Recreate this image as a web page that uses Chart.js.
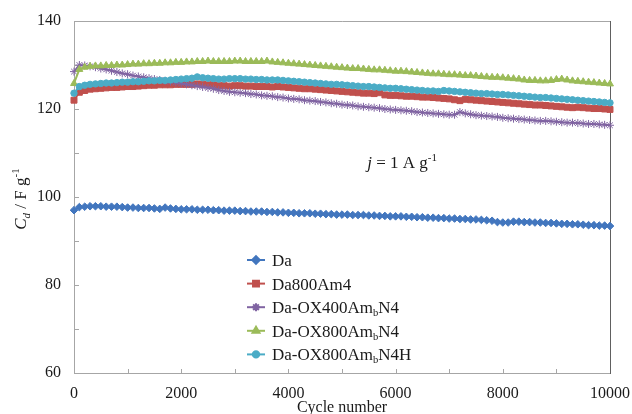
<!DOCTYPE html>
<html><head><meta charset="utf-8">
<script src="https://cdn.jsdelivr.net/npm/chart.js@4/dist/chart.umd.min.js"></script>
<style>html,body{margin:0;padding:0;background:#fff;}#wrap{width:632px;height:414px;}</style>
</head><body><div id="wrap"><canvas id="c" width="632" height="414"></canvas></div>
<script>
const cycles = [0,100,200,300,400,500,600,700,800,900,1000,1100,1200,1300,1400,1500,1600,1700,1800,1900,2000,2100,2200,2300,2400,2500,2600,2700,2800,2900,3000,3100,3200,3300,3400,3500,3600,3700,3800,3900,4000,4100,4200,4300,4400,4500,4600,4700,4800,4900,5000,5100,5200,5300,5400,5500,5600,5700,5800,5900,6000,6100,6200,6300,6400,6500,6600,6700,6800,6900,7000,7100,7200,7300,7400,7500,7600,7700,7800,7900,8000,8100,8200,8300,8400,8500,8600,8700,8800,8900,9000,9100,9200,9300,9400,9500,9600,9700,9800,9900,10000];

const da = [97.0,97.7,97.8,97.9,97.9,97.9,97.8,97.8,97.8,97.7,
97.6,97.6,97.5,97.5,97.5,97.4,97.3,97.6,97.4,97.3,
97.2,97.2,97.2,97.1,97.1,97.1,97.0,97.0,96.9,96.9,
96.9,96.8,96.8,96.7,96.7,96.7,96.6,96.6,96.5,96.5,
96.4,96.4,96.3,96.3,96.3,96.2,96.2,96.1,96.1,96.0,
96.0,96.0,95.9,95.9,95.9,95.8,95.8,95.7,95.7,95.6,
95.6,95.6,95.5,95.5,95.4,95.4,95.3,95.3,95.2,95.2,
95.1,95.1,95.0,95.0,94.9,94.9,94.8,94.7,94.6,94.3,
94.2,94.2,94.4,94.4,94.3,94.3,94.2,94.2,94.1,94.1,
94.0,93.9,93.9,93.8,93.8,93.7,93.6,93.6,93.5,93.5,93.4];

const da800Am4 = [122.0,123.8,124.2,124.5,124.6,124.7,124.8,124.9,124.9,125.0,
125.1,125.1,125.2,125.3,125.4,125.4,125.5,125.5,125.5,125.6,
125.6,125.6,125.6,125.7,125.6,125.5,125.5,125.3,125.3,125.2,
125.3,125.3,125.2,125.2,125.1,125.1,125.1,125.0,125.1,125.0,
124.9,124.8,124.7,124.6,124.6,124.5,124.4,124.3,124.2,124.1,
124.0,123.9,123.8,123.7,123.6,123.6,123.5,123.7,123.2,123.1,
123.1,123.0,122.9,122.9,122.8,122.7,122.7,122.6,122.5,122.4,
122.3,122.1,121.9,122.2,122.1,122.0,121.9,121.8,121.7,121.6,
121.5,121.4,121.3,121.2,121.1,121.0,120.9,120.9,120.8,120.7,
120.6,120.5,120.4,120.3,120.4,120.3,120.2,120.1,120.1,120.0,119.9];

const daOX400 = [128.5,130.0,129.9,129.7,129.5,129.2,129.0,128.7,128.4,128.1,
127.9,127.6,127.4,127.2,127.0,126.8,126.6,126.4,126.2,126.0,
125.8,125.6,125.4,125.2,125.0,124.8,124.6,124.3,124.1,123.9,
123.8,123.7,123.6,123.4,123.3,123.1,123.0,122.9,122.7,122.6,
122.4,122.3,122.2,122.0,121.9,121.8,121.6,121.5,121.3,121.2,
121.0,120.9,120.8,120.6,120.5,120.4,120.3,120.2,120.0,119.9,
119.8,119.7,119.6,119.5,119.3,119.2,119.1,119.0,118.9,118.8,
118.7,118.7,119.3,119.0,118.8,118.6,118.5,118.4,118.3,118.2,
118.0,117.9,117.8,117.7,117.6,117.5,117.4,117.3,117.3,117.2,
117.1,117.0,116.9,116.9,116.8,116.7,116.6,116.6,116.5,116.4,116.3];

const daOX800 = [125.8,129.0,129.5,129.7,129.8,129.8,129.9,129.9,130.0,130.0,
130.1,130.2,130.2,130.3,130.3,130.4,130.4,130.5,130.5,130.6,
130.6,130.7,130.7,130.8,130.8,130.9,130.8,130.8,130.8,130.8,
130.9,130.9,130.8,130.8,130.8,130.8,130.9,130.7,130.6,130.5,
130.4,130.3,130.2,130.1,130.0,129.9,129.8,129.7,129.6,129.5,
129.4,129.3,129.2,129.2,129.1,129.0,128.9,128.9,128.8,128.7,
128.6,128.6,128.5,128.4,128.3,128.2,128.1,128.0,128.0,127.9,
127.8,127.8,127.7,127.6,127.6,127.5,127.4,127.3,127.2,127.2,
127.1,127.0,126.9,126.8,126.6,126.5,126.5,126.4,126.4,126.5,
126.7,126.8,126.6,126.4,126.3,126.2,126.1,126.0,125.9,125.8,125.7];

const daOX800H = [123.6,125.1,125.4,125.6,125.7,125.8,125.9,125.9,126.0,126.1,
126.1,126.2,126.2,126.3,126.4,126.4,126.5,126.5,126.6,126.7,
126.8,126.9,127.0,127.3,127.1,127.0,126.9,126.8,126.8,126.9,
126.9,126.9,126.8,126.8,126.7,126.7,126.6,126.6,126.6,126.5,
126.4,126.3,126.2,126.1,126.0,125.9,125.8,125.7,125.6,125.6,
125.5,125.4,125.3,125.2,125.1,125.1,125.0,124.9,124.8,124.7,
124.7,124.6,124.5,124.4,124.3,124.2,124.1,124.1,124.0,124.2,
124.1,124.0,123.9,123.8,123.7,123.6,123.5,123.5,123.4,123.3,
123.3,123.2,123.1,123.0,122.9,122.8,122.7,122.6,122.6,122.5,
122.4,122.3,122.2,122.1,122.0,121.9,121.8,121.7,121.6,121.5,121.4];

const seriesNames = ['Da', 'Da800Am4', 'Da-OX400Am_bN4', 'Da-OX800Am_bN4', 'Da-OX800Am_bN4H'];
const xTicks = [0, 2000, 4000, 6000, 8000, 10000];
const yTicks = [60, 80, 100, 120, 140];

const styles = [
  {color: '#4276BE', point: 'rectRot', r: 3.8},
  {color: '#C0504D', point: 'rect', r: 4.2},
  {color: '#8064A2', point: 'star', r: 4},
  {color: '#9BBB59', point: 'triangle', r: 4},
  {color: '#4BACC6', point: 'circle', r: 3.2}
];
const seriesData = [da, da800Am4, daOX400, daOX800, daOX800H];
const FONT = '"Liberation Serif", "Times New Roman", serif';

function drawRich(ctx, parts, x, y, align) {
  let w = 0;
  parts.forEach(p => { ctx.font = (p.it ? 'italic ' : '') + p.sz + 'px ' + FONT; w += ctx.measureText(p.t).width; });
  let cx = align === 'center' ? x - w / 2 : x;
  ctx.textAlign = 'left';
  ctx.textBaseline = 'alphabetic';
  parts.forEach(p => {
    ctx.font = (p.it ? 'italic ' : '') + p.sz + 'px ' + FONT;
    ctx.fillText(p.t, cx, y + (p.dy || 0));
    cx += ctx.measureText(p.t).width;
  });
}
function nameParts(name, sz) {
  const out = [];
  const seg = name.split('_');
  out.push({t: seg[0], sz: sz});
  for (let i = 1; i < seg.length; i++) {
    out.push({t: seg[i][0], sz: sz * 0.62, dy: 3});
    out.push({t: seg[i].slice(1), sz: sz});
  }
  return out;
}

const decor = {
  id: 'decor',
  beforeDatasetsDraw(chart) {
    const ctx = chart.ctx;
    const a = chart.chartArea;
    const xs = chart.scales.x, ys = chart.scales.y;
    ctx.save();
    ctx.lineWidth = 1;
    ctx.strokeStyle = '#a6a6a6';
    ctx.beginPath();
    ctx.moveTo(a.left + 0.5, a.top + 0.5); ctx.lineTo(a.right, a.top + 0.5);
    ctx.moveTo(a.left + 0.5, a.top); ctx.lineTo(a.left + 0.5, a.bottom + 0.5);
    ctx.moveTo(a.left, a.bottom + 0.5); ctx.lineTo(a.right + 0.5, a.bottom + 0.5);
    ctx.stroke();
    ctx.strokeStyle = '#606060';
    ctx.beginPath();
    ctx.moveTo(a.right + 0.5, a.top); ctx.lineTo(a.right + 0.5, a.bottom + 1);
    ctx.stroke();
    ctx.strokeStyle = '#a6a6a6';
    ctx.beginPath();
    for (let v = xs.min + 1000; v < xs.max; v += 1000) {
      const px = Math.round(xs.getPixelForValue(v)) + 0.5;
      ctx.moveTo(px, a.bottom); ctx.lineTo(px, a.bottom - 4);
    }
    for (let v = ys.min + 10; v < ys.max; v += 10) {
      const py = Math.round(ys.getPixelForValue(v)) + 0.5;
      ctx.moveTo(a.left, py); ctx.lineTo(a.left + 5, py);
    }
    ctx.stroke();
    ctx.restore();
  },
  afterDraw(chart) {
    const ctx = chart.ctx;
    const a = chart.chartArea;
    const xs = chart.scales.x, ys = chart.scales.y;
    ctx.save();
    // legend
    seriesNames.forEach((n, i) => {
      const st = styles[i];
      const ly = 260 + i * 23.6;
      ctx.strokeStyle = st.color; ctx.lineWidth = 2;
      ctx.beginPath(); ctx.moveTo(247, ly); ctx.lineTo(265, ly); ctx.stroke();
      ctx.fillStyle = st.color;
      Chart.helpers.drawPoint(ctx, {pointStyle: st.point, radius: st.r, rotation: 0, borderWidth: 1}, 256, ly);
      ctx.fillStyle = '#1a1a1a';
      drawRich(ctx, nameParts(n, 17), 272, ly + 6, 'left');
    });
    // annotation j = 1 A g-1
    ctx.fillStyle = '#1a1a1a';
    drawRich(ctx, [
      {t: 'j', it: true, sz: 17},
      {t: ' = 1 A g', sz: 17},
      {t: '-1', sz: 11, dy: -7}
    ], xs.getPixelForValue(5470), ys.getPixelForValue(108) + 6, 'left');
    // x title
    drawRich(ctx, [{t: 'Cycle number', sz: 16}], (a.left + a.right) / 2, 412, 'center');
    // y title
    ctx.translate(26, (a.top + a.bottom) / 2 + 2);
    ctx.rotate(-Math.PI / 2);
    drawRich(ctx, [
      {t: 'C', it: true, sz: 17},
      {t: 'd', it: true, sz: 11, dy: 4},
      {t: ' / F g', sz: 17},
      {t: '-1', sz: 11, dy: -7}
    ], 0, 0, 'center');
    ctx.restore();
  }
};

const datasets = seriesNames.map((n, i) => ({
  label: n.replace('_', ''),
  data: cycles.map((c, k) => ({x: c, y: seriesData[i][k]})),
  borderColor: styles[i].color,
  backgroundColor: styles[i].color,
  pointBackgroundColor: styles[i].color,
  pointBorderColor: styles[i].color,
  pointStyle: styles[i].point,
  pointRadius: styles[i].r,
  pointBorderWidth: 1,
  borderWidth: 2,
  tension: 0,
  clip: false,
  order: 4 - i
}));

new Chart(document.getElementById('c'), {
  type: 'line',
  data: {datasets},
  options: {
    responsive: false,
    animation: false,
    devicePixelRatio: 1,
    layout: {padding: {top: 21, right: 22, left: 0, bottom: 0}},
    plugins: {legend: {display: false}, title: {display: false}, tooltip: {enabled: false}},
    scales: {
      x: {
        type: 'linear', min: 0, max: 10000,
        grid: {display: false, drawTicks: false},
        border: {display: false},
        afterBuildTicks: s => { s.ticks = xTicks.map(v => ({value: v})); },
        afterFit: s => { s.height = 41; s.paddingLeft = 0; s.paddingRight = 0; },
        ticks: {padding: 11, color: '#1a1a1a', maxRotation: 0, font: {family: FONT, size: 16}, callback: v => String(v)}
      },
      y: {
        type: 'linear', min: 60, max: 140,
        grid: {display: false, drawTicks: false},
        border: {display: false},
        afterBuildTicks: s => { s.ticks = yTicks.map(v => ({value: v})); },
        afterFit: s => { s.width = 74; s.paddingTop = 0; s.paddingBottom = 0; },
        ticks: {padding: 13, color: '#1a1a1a', font: {family: FONT, size: 16}, callback: v => String(v)}
      }
    }
  },
  plugins: [decor]
});
</script>
</body></html>
